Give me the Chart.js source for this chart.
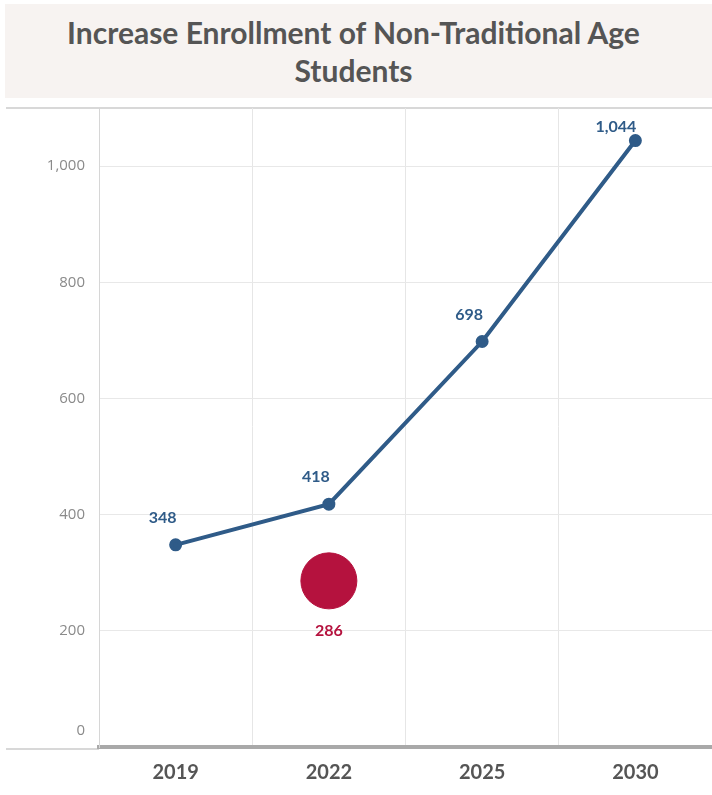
<!DOCTYPE html>
<html>
<head>
<meta charset="utf-8">
<script src="https://cdn.jsdelivr.net/npm/chart.js@4"></script>
<style>
  body { margin:0; width:712px; height:795px; background:#fff; position:relative; overflow:hidden; }
  #title {
    position:absolute; left:5px; top:4px; width:707px; height:94px;
    background:#f7f3f1; color:#555;
    font-family:Lato, "Open Sans", sans-serif; font-weight:bold; font-size:30px;
    line-height:38px; text-align:center; display:flex; align-items:center; justify-content:center;
  }
  #title span { display:block; width:680px; margin-left:-10px; }
  #wrap { position:absolute; left:0; top:100px; width:712px; height:695px; }
</style>
</head>
<body>
<div id="title"><span>Increase Enrollment of Non-Traditional Age Students</span></div>
<div id="wrap"><canvas id="lineChart"></canvas></div>
<script>
// data
const years = ["2019","2022","2025","2030"];
const enrollment = [348, 418, 698, 1044];
const actual = [null, 286, null, null];
const yTicks = [0, 200, 400, 600, 800, 1000];

const blue = "#2f5b88";
const red = "#b5123e";

// labels next to the points + frame lines
const labelPlugin = {
    id:"labels",
    afterDatasetsDraw(chart){
        const ctx = chart.ctx;
        ctx.save();
        ctx.font = "bold 16px Lato, 'Open Sans', sans-serif";
        ctx.textBaseline = "middle";
        chart.getDatasetMeta(0).data.forEach((pt, i) => {
            ctx.fillStyle = blue;
            ctx.textAlign = "right";
            ctx.fillText(enrollment[i].toLocaleString("en-US"), pt.x + 1, Math.max(pt.y - 27, 27));
        });
        chart.getDatasetMeta(1).data.forEach((pt, i) => {
            if (actual[i] == null) return;
            ctx.fillStyle = red;
            ctx.textAlign = "center";
            ctx.fillText(actual[i], pt.x, pt.y + 50);
        });
        // zero label sits above the axis line
        const y = chart.scales.y;
        ctx.font = "15px 'Open Sans', sans-serif";
        ctx.fillStyle = "#8a8a8a";
        ctx.textAlign = "right";
        ctx.fillText("0", y.right - 14, y.getPixelForValue(0) - 16);
        ctx.restore();
    },
    beforeDraw(chart){
        const ctx = chart.ctx, a = chart.chartArea;
        ctx.save();
        ctx.strokeStyle = "#d8d8d8";
        ctx.lineWidth = 2;
        ctx.beginPath();
        ctx.moveTo(6, a.top); ctx.lineTo(712, a.top);
        ctx.moveTo(6, a.bottom + 2); ctx.lineTo(a.left, a.bottom + 2);
        ctx.stroke();
        ctx.restore();
    }
};

new Chart(document.getElementById("lineChart"), {
    type:"line",
    data:{
        labels:years,
        datasets:[{
            data:enrollment,
            borderColor:blue,
            backgroundColor:blue,
            borderWidth:4,
            pointRadius:4.5,
            pointHoverRadius:4.5,
            tension:0
        },{
            data:actual,
            showLine:false,
            backgroundColor:red,
            borderColor:red,
            pointRadius:28,
            pointHoverRadius:28
        }]
    },
    options:{
        responsive:true,
        maintainAspectRatio:false,
        animation:false,
        layout:{autoPadding:false, padding:{top:8, right:0, left:0, bottom:0}},
        plugins:{legend:{display:false}, tooltip:{enabled:false}},
        scales:{
            x:{
                offset:true,
                grid:{offset:true, color:"#e6e6e6", drawTicks:false},
                border:{color:"#a9a9a9", width:4},
                ticks:{color:"#555", padding:14, font:{family:"Lato, 'Open Sans', sans-serif", weight:"bold", size:20}},
                afterFit:s => { s.height = 48; s.paddingLeft = 0; s.paddingRight = 0; }
            },
            y:{
                min:0, max:1100,
                afterBuildTicks:s => { s.ticks = yTicks.map(v => ({value:v})); },
                grid:{color:"#e8e8e8", drawTicks:false},
                border:{color:"#d6d6d6", width:1},
                ticks:{color:"#8a8a8a", padding:14, font:{family:"'Open Sans', sans-serif", size:15},
                       callback:v => v === 0 ? "" : v.toLocaleString("en-US")},
                afterFit:s => { s.width = 99; s.paddingTop = 0; s.paddingBottom = 0; }
            }
        }
    },
    plugins:[labelPlugin]
});
</script>
</body>
</html>
